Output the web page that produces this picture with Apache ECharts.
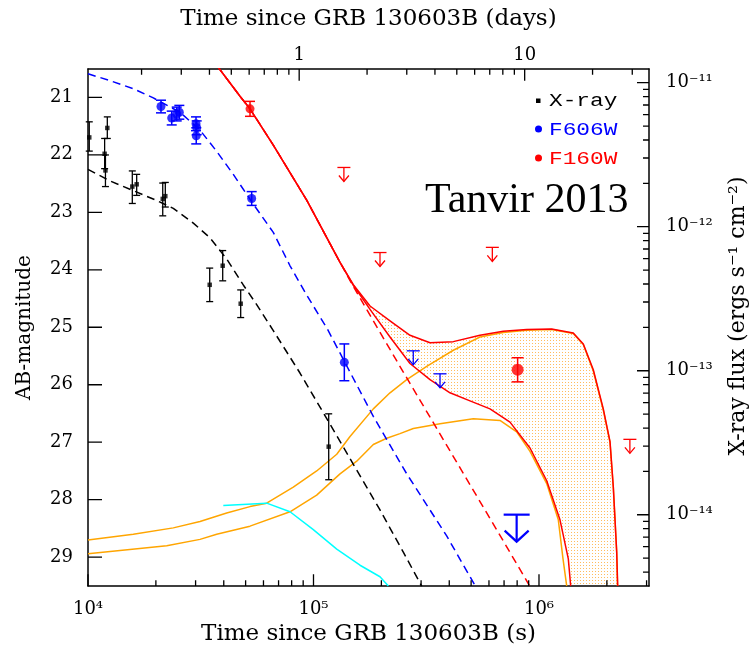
<!DOCTYPE html>
<html>
<head>
<meta charset="utf-8">
<script src="https://cdn.jsdelivr.net/npm/echarts@6/dist/echarts.min.js"></script>
<style>
  html, body { margin: 0; padding: 0; background: #fff; }
  #chart { width: 749px; height: 651px; }
</style>
</head>
<body>
<div id="chart"></div>
<script>
// ---------------- observations ----------------
// Swift/XRT X-ray flux (erg s^-1 cm^-2) with lower / upper bounds
const xrayTime     = [1.013e4, 1.185e4, 1.195e4, 1.218e4, 1.572e4, 1.644e4, 2.145e4, 2.202e4, 3.465e4, 3.957e4, 4.755e4, 1.168e5];
const xrayFlux     = [4.17e-12, 3.21e-12, 2.46e-12, 4.85e-12, 1.90e-12, 1.97e-12, 1.56e-12, 1.63e-12, 3.95e-13, 5.36e-13, 2.92e-13, 2.97e-14];
const xrayFluxLow  = [3.35e-12, 2.53e-12, 1.90e-12, 4.10e-12, 1.45e-12, 1.65e-12, 1.19e-12, 1.37e-12, 3.02e-13, 4.21e-13, 2.34e-13, 1.75e-14];
const xrayFluxHigh = [5.35e-12, 4.10e-12, 3.15e-12, 5.79e-12, 2.44e-12, 2.31e-12, 2.01e-12, 2.03e-12, 5.16e-13, 6.83e-13, 3.64e-13, 5.02e-14];

// optical F606W detections (AB mag)
const f606wTime = [2.107e4, 2.351e4, 2.474e4, 2.541e4, 3.013e4, 3.034e4, 3.02e4, 5.32e4, 1.370e5];
const f606wMag  = [21.16, 21.36, 21.29, 21.26, 21.46, 21.53, 21.67, 22.76, 25.61];
const f606wErr  = [0.11, 0.12, 0.12, 0.12, 0.12, 0.12, 0.14, 0.12, 0.32];

// near-IR F160W detections (AB mag)
const f160wTime = [5.23e4];
const f160wMag  = [21.20];
const f160wErr  = [0.13];
const f160wHstTime = [8.04e5];
const f160wHstMag  = [25.74];
const f160wHstErr  = [0.21];

// upper limits (AB mag)
const f160wLimTime = [1.364e5, 1.972e5, 6.21e5, 2.53e6];
const f160wLimMag  = [22.22, 23.70, 23.61, 26.95];
const f606wLimTime = [2.77e5, 3.64e5];
const f606wLimMag  = [25.41, 25.81];
const f606wHstLimTime = [7.96e5];
const f606wHstLimMag  = [28.26];

// ---------------- models ----------------
// X-ray afterglow model (flux)
const xrayModelTime = [1e4, 1.252e4, 1.588e4, 2.017e4, 2.389e4, 2.931e4, 3.475e4, 4.121e4, 4.883e4, 5.598e4, 6.633e4, 8.71e4, 1.145e5, 1.502e5, 1.972e5, 2.502e5, 3.019e5];
const xrayModelFlux = [2.50e-12, 2.08e-12, 1.78e-12, 1.52e-12, 1.34e-12, 1.06e-12, 8.38e-13, 5.97e-13, 3.94e-13, 2.88e-13, 1.90e-13, 9.64e-14, 4.65e-14, 2.24e-14, 1.08e-14, 5.50e-15, 3.19e-15];

// F606W afterglow model
const f606wModelTime = [1e4, 1.252e4, 1.588e4, 1.948e4, 2.559e4, 3.138e4, 3.722e4, 4.41e4, 5.391e4, 6.633e4, 7.867e4, 9.329e4, 1.152e5, 1.452e5, 1.842e5, 2.591e5, 3.896e5, 5.202e5];
const f606wModelMag  = [20.59, 20.71, 20.85, 21.01, 21.26, 21.57, 21.94, 22.34, 22.85, 23.35, 23.93, 24.44, 25.03, 25.78, 26.55, 27.55, 28.63, 29.49];

// F160W afterglow-only model
const f160wAgTime = [3.75e4, 4.721e4, 5.228e4, 6.633e4, 9.329e4, 1.311e5, 1.502e5, 1.781e5, 2.502e5, 3.399e5, 6.714e5, 9.09e5];
const f160wAgMag  = [20.46, 20.98, 21.20, 21.83, 22.79, 23.87, 24.29, 24.79, 25.78, 26.66, 28.62, 29.50];

// F160W afterglow + brightest kilonova
const f160wMaxTime = [3.75e4, 4.721e4, 5.228e4, 6.633e4, 9.329e4, 1.311e5, 1.502e5, 1.781e5, 2.184e5, 2.679e5, 3.286e5, 4.169e5, 5.474e5, 6.945e5, 8.822e5, 1.138e6, 1.419e6, 1.572e6, 1.741e6, 1.928e6, 2.065e6, 2.136e6, 2.211e6, 2.234e6];
const f160wMaxMag  = [20.46, 20.98, 21.20, 21.83, 22.79, 23.87, 24.26, 24.63, 24.89, 25.14, 25.27, 25.25, 25.14, 25.07, 25.04, 25.03, 25.10, 25.29, 25.74, 26.42, 26.99, 27.78, 28.91, 29.50];

// F160W afterglow + faintest kilonova
const f160wMinTime = [3.75e4, 4.721e4, 5.228e4, 6.633e4, 9.329e4, 1.311e5, 1.502e5, 1.781e5, 2.184e5, 2.679e5, 3.286e5, 4.03e5, 4.943e5, 6.063e5, 7.437e5, 9.123e5, 1.082e6, 1.239e6, 1.349e6, 1.382e6];
const f160wMinMag  = [20.46, 20.98, 21.20, 21.83, 22.79, 23.87, 24.27, 24.69, 25.17, 25.63, 25.91, 26.14, 26.28, 26.42, 26.65, 27.10, 27.67, 28.35, 29.03, 29.50];

// kilonova models (F160W), bright and faint
const kilonovaHiTime = [1e4, 1.588e4, 2.389e4, 3.138e4, 4.121e4, 5.228e4, 6.2e4, 8.135e4, 1.033e5, 1.268e5, 1.452e5, 1.842e5, 2.184e5, 2.591e5, 3.177e5, 4.169e5, 5.474e5, 6.945e5, 8.822e5, 1.138e6, 1.419e6, 1.572e6, 1.741e6, 1.928e6, 2.065e6, 2.136e6, 2.211e6, 2.23e6];
const kilonovaHiMag  = [28.70, 28.60, 28.49, 28.38, 28.23, 28.12, 28.06, 27.78, 27.50, 27.21, 26.90, 26.42, 26.14, 25.91, 25.68, 25.40, 25.17, 25.09, 25.05, 25.04, 25.11, 25.30, 25.76, 26.44, 27.00, 27.79, 28.91, 29.50];
const kilonovaLoTime = [1e4, 2.234e4, 3.138e4, 3.722e4, 5.228e4, 7.867e4, 1.033e5, 1.311e5, 1.555e5, 1.842e5, 2.112e5, 2.418e5, 2.771e5, 3.639e5, 5.112e5, 6.714e5, 7.962e5, 9.123e5, 1.082e6, 1.218e6, 1.278e6, 1.327e6];
const kilonovaLoMag  = [28.94, 28.80, 28.69, 28.60, 28.46, 28.21, 27.92, 27.55, 27.33, 27.04, 26.93, 26.85, 26.76, 26.68, 26.59, 26.62, 26.82, 27.16, 27.72, 28.35, 29.03, 29.50];

// kilonova model (F606W)
const kilonovaOptTime = [3.981e4, 6.2e4, 7.867e4, 9.98e4, 1.268e5, 1.608e5, 1.972e5, 2.147e5];
const kilonovaOptMag  = [28.10, 28.06, 28.21, 28.52, 28.86, 29.14, 29.34, 29.50];

// axis ticks
const timeMajor = [1e4, 1e5, 1e6];
const timeMinor = [2e4, 3e4, 4e4, 5e4, 6e4, 7e4, 8e4, 9e4, 2e5, 3e5, 4e5, 5e5, 6e5, 7e5, 8e5, 9e5, 2e6, 3e6];
const dayMajor = [1, 10];
const dayMinor = [0.2, 0.3, 0.4, 0.5, 0.6, 0.7, 0.8, 0.9, 2, 3, 4, 5, 6, 7, 8, 9, 20, 30];
const magTicks = [21, 22, 23, 24, 25, 26, 27, 28, 29];
const fluxMajor = [1e-14, 1e-13, 1e-12, 1e-11];
const fluxMinor = [4e-15, 5e-15, 6e-15, 7e-15, 8e-15, 9e-15,
                   2e-14, 3e-14, 4e-14, 5e-14, 6e-14, 7e-14, 8e-14, 9e-14,
                   2e-13, 3e-13, 4e-13, 5e-13, 6e-13, 7e-13, 8e-13, 9e-13,
                   2e-12, 3e-12, 4e-12, 5e-12, 6e-12, 7e-12, 8e-12, 9e-12];

// ---------------- helpers ----------------
const SEC_PER_DAY = 86400;
const T_MIN = 1e4, T_MAX = 3.075e6;
const D_MIN = T_MIN / SEC_PER_DAY, D_MAX = T_MAX / SEC_PER_DAY;
const MAG_MIN = 20.507, MAG_MAX = 29.503;
const FLUX_MIN = 3.195e-15, FLUX_MAX = 1.245e-11;
const GRID = { left: 88, top: 69, width: 561, height: 529 };
const SUP = { '0': '⁰', '1': '¹', '2': '²', '3': '³', '4': '⁴', '5': '⁵', '6': '⁶', '7': '⁷', '8': '⁸', '9': '⁹', '-': '⁻' };
const powLabel = v => '10' + String(Math.round(Math.log10(v))).split('').map(c => SUP[c]).join('');
const zip = (a, b) => a.map((v, i) => [v, b[i]]);

const SERIF = 'DejaVu Serif';
const RED = '#ff0000', BLUE = '#0000ff', ORANGE = '#ffa500', CYAN = '#00ffff';

// dotted fill used for the kilonova band
const tile = document.createElement('canvas');
tile.width = 3; tile.height = 3;
const tctx = tile.getContext('2d');
tctx.fillStyle = 'rgba(255,165,40,0.75)';
tctx.fillRect(1, 1, 1, 1);

function lineSeries(name, times, vals, color, dashed, yAxisIndex, z) {
  return {
    type: 'line', name, xAxisIndex: 0, yAxisIndex: yAxisIndex || 0,
    data: zip(times, vals), showSymbol: false, symbol: 'none', clip: true,
    lineStyle: { color, width: 1.5, type: dashed ? [8, 5] : 'solid', join: 'round' },
    z: z || 3, silent: true
  };
}

function errorBars(name, times, lo, hi, color, yAxisIndex, capHalf, width) {
  return {
    type: 'custom', name, xAxisIndex: 0, yAxisIndex,
    data: times.map((t, i) => [t, lo[i], hi[i]]),
    encode: { x: 0, y: [1, 2] },
    renderItem(params, api) {
      const a = api.coord([api.value(0), api.value(1)]);
      const b = api.coord([api.value(0), api.value(2)]);
      const style = { stroke: color, lineWidth: width, fill: null };
      return {
        type: 'group', children: [
          { type: 'line', shape: { x1: a[0], y1: a[1], x2: b[0], y2: b[1] }, style },
          { type: 'line', shape: { x1: a[0] - capHalf, y1: a[1], x2: a[0] + capHalf, y2: a[1] }, style },
          { type: 'line', shape: { x1: b[0] - capHalf, y1: b[1], x2: b[0] + capHalf, y2: b[1] }, style }
        ]
      };
    },
    z: 6, silent: true
  };
}

function upperLimits(name, times, mags, color, size, width) {
  const s = size;
  return {
    type: 'custom', name, xAxisIndex: 0, yAxisIndex: 0,
    data: zip(times, mags),
    encode: { x: 0, y: 1 },
    renderItem(params, api) {
      const p = api.coord([api.value(0), api.value(1)]);
      const x = p[0], y = p[1];
      const style = { stroke: color, lineWidth: width, fill: null };
      return {
        type: 'group', children: [
          { type: 'line', shape: { x1: x - s.bar, y1: y, x2: x + s.bar, y2: y }, style },
          { type: 'line', shape: { x1: x, y1: y, x2: x, y2: y + s.stem }, style },
          { type: 'polyline', shape: { points: [[x - s.head, y + s.stem - s.headH], [x, y + s.stem], [x + s.head, y + s.stem - s.headH]] }, style }
        ]
      };
    },
    z: 7, silent: true
  };
}

// frame ticks as short broken-line segments in data space; lengths are given
// in pixels and turned into axis units from the grid size
const magPerPx = (MAG_MAX - MAG_MIN) / GRID.height;
const decPerPxX = Math.log10(T_MAX / T_MIN) / GRID.width;
function tickSeries(name, xAxisIndex, yAxisIndex, segments) {
  const data = [];
  segments.forEach(s => { data.push(s[0], s[1], null); });
  return {
    type: 'line', name, xAxisIndex, yAxisIndex, data,
    showSymbol: false, symbol: 'none', connectNulls: false, clip: false,
    lineStyle: { color: '#000', width: 1.3, type: 'solid' },
    z: 9, silent: true
  };
}
const bottomTicks = (vals, len) => vals.map(v => [[v, MAG_MAX], [v, MAG_MAX - len * magPerPx]]);
const topTicks = (vals, len) => vals.map(v => [[v, MAG_MIN], [v, MAG_MIN + len * magPerPx]]);
const leftTicks = (vals, len) => vals.map(v => [[T_MIN, v], [T_MIN * Math.pow(10, len * decPerPxX), v]]);
const rightTicks = (vals, len) => vals.map(v => [[T_MAX, v], [T_MAX / Math.pow(10, len * decPerPxX), v]]);

const SMALL_LIM = { bar: 6.5, stem: 14, head: 5, headH: 6 };
const BIG_LIM = { bar: 13, stem: 27, head: 12, headH: 11 };

// band between the two F160W envelopes
const bandStart = f160wMaxTime.indexOf(1.502e5);
const bandSeries = {
  type: 'custom', name: 'kilonova band', xAxisIndex: 0, yAxisIndex: 0,
  data: [[f160wMaxTime[bandStart], f160wMaxMag[bandStart]]],
  encode: { x: 0, y: 1 },
  renderItem(params, api) {
    const pts = [];
    for (let i = bandStart; i < f160wMaxTime.length; i++) pts.push(api.coord([f160wMaxTime[i], f160wMaxMag[i]]));
    for (let i = f160wMinTime.length - 1; i >= bandStart; i--) pts.push(api.coord([f160wMinTime[i], f160wMinMag[i]]));
    return { type: 'polygon', shape: { points: pts }, style: { fill: { image: tile, repeat: 'repeat' }, stroke: null } };
  },
  z: 1, silent: true
};

const labelFont = { fontFamily: SERIF, fontSize: 18, color: '#000' };
const frameLine = { show: true, onZero: false, lineStyle: { color: '#000', width: 1.5 } };

const option = {
  animation: false,
  backgroundColor: '#fff',
  grid: { ...GRID, containLabel: false },
  xAxis: [
    {
      type: 'log', logBase: 10, position: 'bottom', min: T_MIN, max: T_MAX,
      axisLine: frameLine, axisTick: { show: false },
      axisLabel: { show: true, customValues: timeMajor, formatter: powLabel, margin: 14, ...labelFont },
      splitLine: { show: false },
      name: 'Time since GRB 130603B (s)', nameLocation: 'middle', nameGap: 34,
      nameTextStyle: { fontFamily: SERIF, fontSize: 23, color: '#000' }
    },
    {
      type: 'log', logBase: 10, position: 'top', min: D_MIN, max: D_MAX,
      axisLine: frameLine, axisTick: { show: false },
      axisLabel: { show: true, customValues: dayMajor, formatter: v => String(Math.round(v)), margin: 5, ...labelFont },
      splitLine: { show: false },
      name: 'Time since GRB 130603B (days)', nameLocation: 'middle', nameGap: 38,
      nameTextStyle: { fontFamily: SERIF, fontSize: 23, color: '#000' }
    }
  ],
  yAxis: [
    {
      type: 'value', position: 'left', inverse: true, min: MAG_MIN, max: MAG_MAX,
      axisLine: frameLine, axisTick: { show: false },
      axisLabel: { show: true, customValues: magTicks, margin: 15, ...labelFont },
      splitLine: { show: false },
      name: 'AB-magnitude', nameLocation: 'middle', nameRotate: 90, nameGap: 53,
      nameTextStyle: { fontFamily: SERIF, fontSize: 20, color: '#000' }
    },
    {
      type: 'log', logBase: 10, position: 'right', min: FLUX_MIN, max: FLUX_MAX,
      axisLine: frameLine, axisTick: { show: false },
      axisLabel: { show: true, customValues: fluxMajor, formatter: powLabel, margin: 17, ...labelFont },
      splitLine: { show: false }
    }
  ],
  series: [
    bandSeries,
    lineSeries('kilonova bright', kilonovaHiTime, kilonovaHiMag, ORANGE, false, 0, 2),
    lineSeries('kilonova faint', kilonovaLoTime, kilonovaLoMag, ORANGE, false, 0, 2),
    lineSeries('kilonova F606W', kilonovaOptTime, kilonovaOptMag, CYAN, false, 0, 2),
    lineSeries('X-ray model', xrayModelTime, xrayModelFlux, '#000', true, 1, 3),
    lineSeries('F606W model', f606wModelTime, f606wModelMag, BLUE, true, 0, 3),
    lineSeries('F160W afterglow', f160wAgTime, f160wAgMag, RED, true, 0, 3),
    lineSeries('F160W + bright kilonova', f160wMaxTime, f160wMaxMag, RED, false, 0, 4),
    lineSeries('F160W + faint kilonova', f160wMinTime, f160wMinMag, RED, false, 0, 4),

    errorBars('X-ray err', xrayTime, xrayFluxLow, xrayFluxHigh, '#000', 1, 3.5, 1.3),
    {
      type: 'scatter', name: 'X-ray', xAxisIndex: 0, yAxisIndex: 1,
      data: zip(xrayTime, xrayFlux), symbol: 'rect', symbolSize: 4.5,
      itemStyle: { color: '#000' }, z: 8, silent: true
    },
    errorBars('F606W err', f606wTime, f606wMag.map((m, i) => m + f606wErr[i]), f606wMag.map((m, i) => m - f606wErr[i]), BLUE, 0, 5, 1.5),
    {
      type: 'scatter', name: 'F606W', xAxisIndex: 0, yAxisIndex: 0,
      data: zip(f606wTime, f606wMag), symbol: 'circle', symbolSize: 9,
      itemStyle: { color: BLUE }, z: 8, silent: true
    },
    errorBars('F160W err', f160wTime, f160wMag.map((m, i) => m + f160wErr[i]), f160wMag.map((m, i) => m - f160wErr[i]), RED, 0, 5, 1.5),
    errorBars('F160W HST err', f160wHstTime, f160wHstMag.map((m, i) => m + f160wHstErr[i]), f160wHstMag.map((m, i) => m - f160wHstErr[i]), RED, 0, 6, 1.5),
    {
      type: 'scatter', name: 'F160W', xAxisIndex: 0, yAxisIndex: 0,
      data: zip(f160wTime, f160wMag), symbol: 'circle', symbolSize: 9,
      itemStyle: { color: RED }, z: 8, silent: true
    },
    {
      type: 'scatter', name: 'F160W HST', xAxisIndex: 0, yAxisIndex: 0,
      data: zip(f160wHstTime, f160wHstMag), symbol: 'circle', symbolSize: 12,
      itemStyle: { color: RED }, z: 8, silent: true
    },
    upperLimits('F160W limits', f160wLimTime, f160wLimMag, RED, SMALL_LIM, 1.3),
    upperLimits('F606W limits', f606wLimTime, f606wLimMag, BLUE, SMALL_LIM, 1.3),
    upperLimits('F606W HST limit', f606wHstLimTime, f606wHstLimMag, BLUE, BIG_LIM, 2.2),

    // frame ticks
    tickSeries('ticks s', 0, 0, bottomTicks(timeMajor, 12).concat(bottomTicks(timeMinor, 6))),
    tickSeries('ticks d', 1, 0, topTicks(dayMajor, 12).concat(topTicks(dayMinor, 6))),
    tickSeries('ticks mag', 0, 0, leftTicks(magTicks, 14)),
    tickSeries('ticks flux', 0, 1, rightTicks(fluxMajor, 12).concat(rightTicks(fluxMinor, 6)))
  ],
  graphic: [
    // legend
    { type: 'rect', shape: { x: 536, y: 98.5, width: 4.5, height: 4.5 }, style: { fill: '#000' }, z: 10 },
    { type: 'circle', shape: { cx: 538.5, cy: 129, r: 3.5 }, style: { fill: BLUE }, z: 10 },
    { type: 'circle', shape: { cx: 538.5, cy: 158, r: 3.5 }, style: { fill: RED }, z: 10 },
    { type: 'text', x: 549, y: 101, scaleX: 1.2, z: 10,
      style: { text: 'X-ray', fill: '#000', font: '19px "Liberation Mono"', verticalAlign: 'middle' } },
    { type: 'text', x: 549, y: 129.5, scaleX: 1.2, z: 10,
      style: { text: 'F606W', fill: BLUE, font: '19px "Liberation Mono"', verticalAlign: 'middle' } },
    { type: 'text', x: 549, y: 158.5, scaleX: 1.2, z: 10,
      style: { text: 'F160W', fill: RED, font: '19px "Liberation Mono"', verticalAlign: 'middle' } },
    // annotation
    { type: 'text', x: 425, y: 201, z: 10,
      style: { text: 'Tanvir 2013', fill: '#000', font: '42px "Liberation Serif"', verticalAlign: 'middle' } },
    // right-hand axis title
    { type: 'text', x: 738, y: 316, rotation: Math.PI / 2, z: 10,
      style: { text: 'X-ray flux (ergs s⁻¹ cm⁻²)', fill: '#000', font: '22px "DejaVu Serif"', align: 'center', verticalAlign: 'middle' } }
  ]
};

const chart = echarts.init(document.getElementById('chart'), null, { renderer: 'canvas' });
chart.setOption(option);
</script>
</body>
</html>
